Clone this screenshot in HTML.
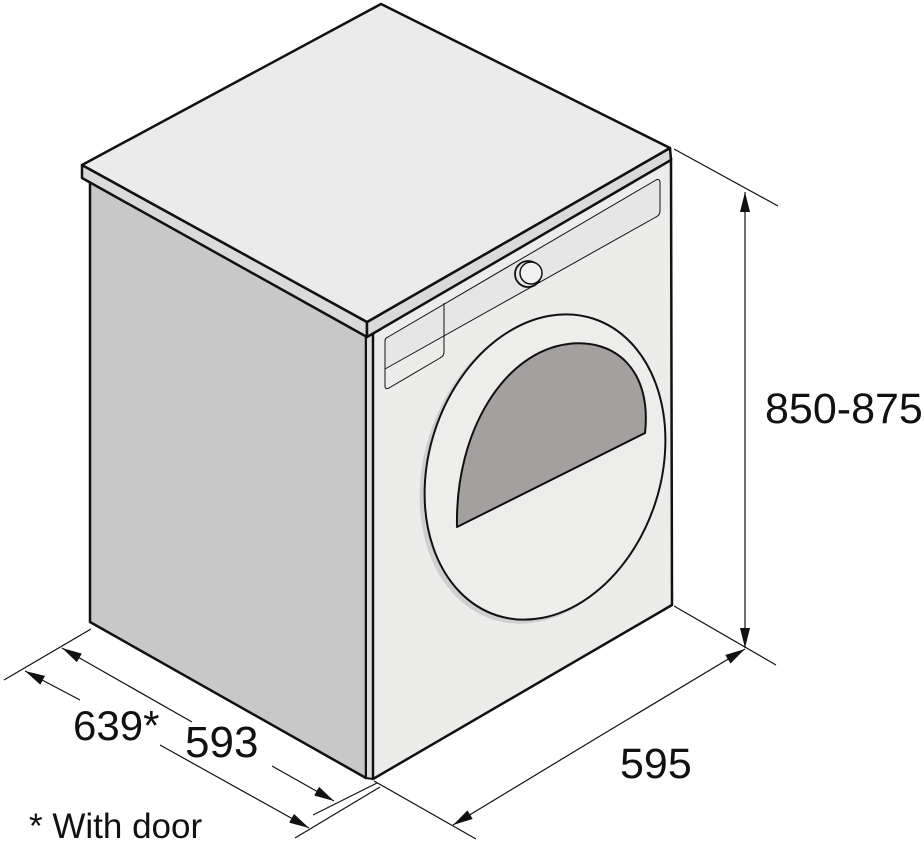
<!DOCTYPE html>
<html><head><meta charset="utf-8"><style>
html,body{margin:0;padding:0;background:#fff;}
svg{display:block;}
text{font-family:"Liberation Sans",sans-serif;fill:#111;}
</style></head><body>
<svg width="924" height="848" viewBox="0 0 924 848" xmlns="http://www.w3.org/2000/svg">
<defs>
<marker id="ar" viewBox="0 0 20 10" refX="20" refY="5" markerWidth="20" markerHeight="10" markerUnits="userSpaceOnUse" orient="auto">
<path d="M0,0 L20,5 L0,10 Z" fill="#111"/>
</marker>
</defs>
<g stroke="#111" stroke-linejoin="round">
<polygon points="90,180 366,335 366,778 90,622" fill="#c9c8c8" stroke-width="2.5"/>
<polygon points="366,335 373,331 373,779 366,778" fill="#dcdcdc" stroke-width="2"/>
<polygon points="373,331 671,158 672,605 373,779" fill="#ececeb" stroke-width="2.5"/>
<polygon points="82,165 367,322 367,337 82,178" fill="#dadada" stroke-width="2.5"/>
<polygon points="367,322 670,148 671,160 367,337" fill="#dadada" stroke-width="2.5"/>
<polygon points="381,4 670,148 367,322 82,165" fill="#ebebeb" stroke-width="2.5"/>
<!-- control panel -->
<path d="M388,337 L656,180 Q660,178 660,183 L660,211 Q660,215 656,217 L385,369 L385,341 Q385,338 388,337 Z" fill="#e6e6e6" stroke-width="1"/>
<path d="M444,303 L444,352 Q444,356 440,358 L389,388 Q385,390 385,386 L385,369" fill="none" stroke-width="1"/>
<circle cx="528" cy="274" r="13" fill="#e8e8e8" stroke-width="1.8"/>
<circle cx="531" cy="273" r="11" fill="#f0f0f0" stroke-width="1.5"/>
<!-- door -->
<ellipse cx="541" cy="470" rx="117" ry="157" transform="rotate(18 541 470)" fill="#cfcfcf" stroke="none"/>
<ellipse cx="545" cy="467" rx="116" ry="156" transform="rotate(18 545 467)" fill="#ededec" stroke-width="2"/>
<path d="M457,527 L645,433 C652,370 615,338 568,344 C505,352 455,430 457,527 Z" fill="#a3a09f" stroke-width="2"/>
</g>
<g stroke="#111" stroke-width="1.2" fill="none">
<line x1="674" y1="149" x2="778" y2="206"/>
<line x1="674" y1="606" x2="776" y2="665"/>
<line x1="745" y1="245" x2="745" y2="192" marker-end="url(#ar)"/>
<line x1="745" y1="600" x2="745" y2="648" marker-end="url(#ar)"/>
<line x1="745" y1="245" x2="745" y2="600"/>
<line x1="374" y1="781" x2="476" y2="839"/>
<line x1="600" y1="736" x2="745" y2="649" marker-end="url(#ar)"/>
<line x1="600" y1="736" x2="453" y2="825" marker-end="url(#ar)"/>
<line x1="91" y1="629" x2="4" y2="680"/>
<line x1="377" y1="783" x2="313" y2="815"/>
<line x1="380" y1="787" x2="295" y2="838"/>
<line x1="192" y1="722" x2="62" y2="648" marker-end="url(#ar)"/>
<line x1="272" y1="766" x2="334" y2="801" marker-end="url(#ar)"/>
<line x1="80" y1="700" x2="25" y2="671" marker-end="url(#ar)"/>
<line x1="160" y1="745" x2="309" y2="828" marker-end="url(#ar)"/>
</g>
<text x="765" y="423" font-size="43">850-875</text>
<text x="620" y="778" font-size="43">595</text>
<text x="73" y="740" font-size="42">639*</text>
<text x="185" y="757" font-size="44">593</text>
<text x="29" y="838" font-size="35">* With door</text>
</svg>
</body></html>
